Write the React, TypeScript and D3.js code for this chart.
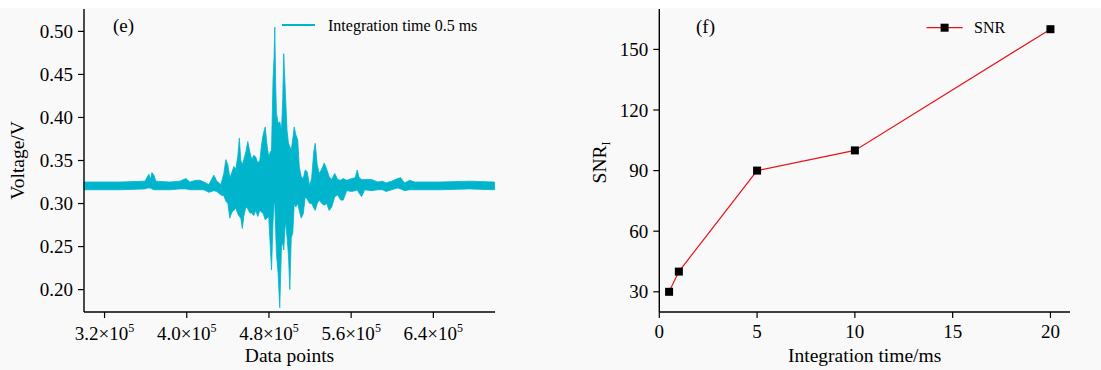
import React from "react";
import * as d3 from "d3";

// left panel (e): signal envelope, x in units of 10^5 data points
const sigX = [3.0, 3.35, 3.593, 3.617, 3.632, 3.646, 3.661, 3.68, 3.7, 3.836, 3.933, 3.992, 4.03, 4.089, 4.128, 4.167, 4.215, 4.264, 4.293, 4.332, 4.361, 4.38, 4.4, 4.419, 4.439, 4.458, 4.477, 4.497, 4.512, 4.526, 4.541, 4.555, 4.575, 4.594, 4.614, 4.633, 4.652, 4.672, 4.691, 4.711, 4.73, 4.745, 4.764, 4.779, 4.798, 4.813, 4.825, 4.84, 4.85, 4.857, 4.865, 4.873, 4.889, 4.905, 4.922, 4.934, 4.944, 4.96, 4.976, 4.99, 5.003, 5.017, 5.032, 5.046, 5.061, 5.08, 5.095, 5.114, 5.134, 5.153, 5.172, 5.197, 5.216, 5.236, 5.25, 5.27, 5.289, 5.314, 5.338, 5.362, 5.386, 5.411, 5.44, 5.469, 5.498, 5.523, 5.557, 5.605, 5.639, 5.659, 5.678, 5.702, 5.731, 5.799, 5.858, 5.906, 5.94, 5.994, 6.052, 6.082, 6.12, 6.169, 6.218, 6.461, 6.752, 6.995];
const sigHi = [0.325, 0.325, 0.326, 0.331, 0.334, 0.328, 0.336, 0.333, 0.326, 0.325, 0.326, 0.329, 0.325, 0.327, 0.327, 0.325, 0.322, 0.333, 0.326, 0.322, 0.335, 0.351, 0.345, 0.33, 0.336, 0.343, 0.34, 0.355, 0.376, 0.35, 0.345, 0.351, 0.36, 0.372, 0.36, 0.351, 0.356, 0.354, 0.347, 0.35, 0.37, 0.381, 0.389, 0.37, 0.354, 0.36, 0.362, 0.445, 0.47, 0.505, 0.44, 0.405, 0.393, 0.395, 0.385, 0.42, 0.474, 0.428, 0.385, 0.37, 0.366, 0.362, 0.375, 0.389, 0.38, 0.374, 0.343, 0.331, 0.329, 0.339, 0.337, 0.32, 0.33, 0.36, 0.37, 0.345, 0.335, 0.34, 0.347, 0.34, 0.331, 0.328, 0.335, 0.328, 0.327, 0.329, 0.327, 0.329, 0.33, 0.339, 0.33, 0.328, 0.328, 0.328, 0.325, 0.326, 0.324, 0.326, 0.329, 0.33, 0.324, 0.327, 0.325, 0.325, 0.326, 0.325];
const sigLo = [0.316, 0.316, 0.317, 0.318, 0.318, 0.318, 0.317, 0.316, 0.316, 0.316, 0.317, 0.317, 0.316, 0.316, 0.316, 0.316, 0.313, 0.315, 0.314, 0.31, 0.309, 0.303, 0.3, 0.283, 0.29, 0.292, 0.295, 0.288, 0.285, 0.283, 0.271, 0.285, 0.296, 0.294, 0.289, 0.289, 0.286, 0.292, 0.285, 0.292, 0.29, 0.288, 0.281, 0.283, 0.285, 0.25, 0.223, 0.28, 0.3, 0.3, 0.27, 0.242, 0.219, 0.179, 0.25, 0.255, 0.246, 0.28, 0.261, 0.24, 0.2, 0.26, 0.266, 0.3, 0.296, 0.3, 0.292, 0.283, 0.288, 0.308, 0.305, 0.3, 0.3, 0.295, 0.292, 0.3, 0.304, 0.3, 0.298, 0.3, 0.292, 0.296, 0.308, 0.31, 0.304, 0.304, 0.315, 0.314, 0.315, 0.316, 0.312, 0.308, 0.316, 0.315, 0.316, 0.316, 0.314, 0.316, 0.318, 0.317, 0.315, 0.316, 0.316, 0.316, 0.317, 0.316];
const leftYTicks = [0.2, 0.25, 0.3, 0.35, 0.4, 0.45, 0.5];
const leftXTicks = [3.2, 4.0, 4.8, 5.6, 6.4];

// right panel (f): SNR vs integration time
const intTime = [0.5, 1, 5, 10, 20];
const snr = [30, 40, 90, 100, 160];
const rightXTicks = [0, 5, 10, 15, 20];
const rightYTicks = [30, 60, 90, 120, 150];

const FONT = "'Liberation Serif', 'Times New Roman', serif";
const CYAN = "#00b4cc";
const RED = "#e8141c";

export default function App() {
  const W = 1101, H = 370;
  const top = 9, bottom = 312;

  const xL = d3.scaleLinear().domain([3.0, 7.0]).range([84, 495]);
  const yL = d3.scaleLinear().domain([0.174, 0.526]).range([bottom, top]);
  const xR = d3.scaleLinear().domain([0, 21]).range([659.3, 1070]);
  const yR = d3.scaleLinear().domain([20, 170]).range([bottom, top]);

  const sig = sigX.map((x, i) => ({ x, hi: sigHi[i], lo: sigLo[i] }));
  const band = d3.area<any>()
    .x(d => xL(d.x))
    .y0(d => yL(d.lo))
    .y1(d => yL(d.hi))(sig);

  const pts = intTime.map((t, i) => ({ t, v: snr[i] }));
  const snrLine = d3.line<any>().x(d => xR(d.t)).y(d => yR(d.v))(pts);

  return (
    <svg width={W} height={H} style={{ position: "absolute", left: 0, top: 0 }} fontFamily={FONT}>
      <rect x={0} y={8} width={W} height={H - 8} fill="#f9f9f9" />

      {/* ---- panel (e) ---- */}
      <path d={band!} fill={CYAN} stroke={CYAN} strokeWidth={0.8} strokeLinejoin="miter" />
      <line x1={xL(3.0)} x2={xL(3.0)} y1={top} y2={bottom} stroke="#000" strokeWidth={1.4} />
      <line x1={xL(3.0)} x2={xL(7.0)} y1={bottom} y2={bottom} stroke="#000" strokeWidth={1.4} />
      {leftYTicks.map(t => (
        <g key={t}>
          <line x1={xL(3.0) - 6} x2={xL(3.0)} y1={yL(t)} y2={yL(t)} stroke="#000" strokeWidth={1.2} />
          <text x={xL(3.0) - 11} y={yL(t)} dy="0.35em" textAnchor="end" fontSize={19}>{t.toFixed(2)}</text>
        </g>
      ))}
      {leftXTicks.map(t => (
        <g key={t}>
          <line x1={xL(t)} x2={xL(t)} y1={bottom} y2={bottom + 6} stroke="#000" strokeWidth={1.2} />
          <text x={xL(t)} y={340} textAnchor="middle" fontSize={19}>
            {t.toFixed(1)}×10<tspan fontSize={12} dy={-8}>5</tspan>
          </text>
        </g>
      ))}
      <text x={(xL(3.0) + xL(7.0)) / 2} y={362} textAnchor="middle" fontSize={19.5}>Data points</text>
      <text transform={`translate(24,${(top + bottom) / 2}) rotate(-90)`} textAnchor="middle" fontSize={19.5}>Voltage/V</text>
      <text x={113} y={32} fontSize={19}>(e)</text>
      <line x1={282} x2={315} y1={25} y2={25} stroke={CYAN} strokeWidth={2} />
      <text x={328} y={31} fontSize={16}>Integration time 0.5 ms</text>

      {/* ---- panel (f) ---- */}
      <path d={snrLine!} fill="none" stroke={RED} strokeWidth={1.2} />
      {pts.map(p => (
        <rect key={p.t} x={xR(p.t) - 4} y={yR(p.v) - 4} width={8} height={8} fill="#000" />
      ))}
      <line x1={xR(0)} x2={xR(0)} y1={top} y2={bottom} stroke="#000" strokeWidth={1.4} />
      <line x1={xR(0)} x2={xR(21)} y1={bottom} y2={bottom} stroke="#000" strokeWidth={1.4} />
      {rightYTicks.map(t => (
        <g key={t}>
          <line x1={xR(0) - 6} x2={xR(0)} y1={yR(t)} y2={yR(t)} stroke="#000" strokeWidth={1.2} />
          <text x={xR(0) - 11} y={yR(t)} dy="0.35em" textAnchor="end" fontSize={19}>{t}</text>
        </g>
      ))}
      {rightXTicks.map(t => (
        <g key={t}>
          <line x1={xR(t)} x2={xR(t)} y1={bottom} y2={bottom + 6} stroke="#000" strokeWidth={1.2} />
          <text x={xR(t)} y={338} textAnchor="middle" fontSize={19}>{t}</text>
        </g>
      ))}
      <text x={(xR(0) + xR(21)) / 2} y={362} textAnchor="middle" fontSize={19.5}>Integration time/ms</text>
      <text transform={`translate(606,${(top + bottom) / 2 + 2}) rotate(-90)`} textAnchor="middle" fontSize={19.5}>
        SNR<tspan fontSize={12} dy={4}>I</tspan>
      </text>
      <text x={696} y={33} fontSize={19}>(f)</text>
      <line x1={926.5} x2={962.7} y1={27.7} y2={27.7} stroke={RED} strokeWidth={1.2} />
      <rect x={944.6 - 4} y={27.7 - 4} width={8} height={8} fill="#000" />
      <text x={974} y={33} fontSize={16}>SNR</text>
    </svg>
  );
}
